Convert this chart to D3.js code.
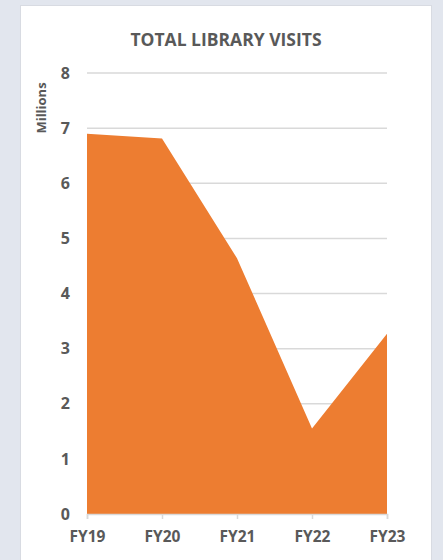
<!DOCTYPE html>
<html>
<head>
    <meta charset='utf-8'>
    <title>Total Library Visits</title>
    <style>
    body {
      margin: 0;
      background: #e2e6ee;
      font-family: 'Open Sans', sans-serif;
    }
    #container {
      width: 443px;
      height: 560px;
    }
    </style>
    <script src='https://d3js.org/d3.v7.min.js'></script>
</head>
<body>
<div id="container"></div>
<script>
// ******* Data *******
const years = ["FY19", "FY20", "FY21", "FY22", "FY23"];
const visits = [6.9, 6.81, 4.64, 1.55, 3.27];   // millions
const yTicks = [0, 1, 2, 3, 4, 5, 6, 7, 8];

// ******* Constants *******
const width = 443,
      height = 560,
      textColor = "#595959",
      gridColor = "#d9d9d9",
      orange = "#ed7d31";

const margin = {left: 87, right: 56, top: 73, bottom: 46};

// ******* Scales *******
var x = d3.scalePoint()
    .domain(years)
    .range([margin.left, width - margin.right]);
var y = d3.scaleLinear()
    .domain([0, 8])
    .range([height - margin.bottom, margin.top]);

// ******* SVG *******
var svg = d3.select("#container").append("svg")
    .attr("width", width)
    .attr("height", height)
    .style("display", "block");

// card
svg.append("rect")
    .attr("x", 20.5).attr("y", 5.5)
    .attr("width", 411).attr("height", 570)
    .attr("fill", "#fff")
    .attr("stroke", "#d8dbe2");

// title, centred on the card
svg.append("text")
    .attr("x", 226)
    .attr("y", 46)
    .attr("text-anchor", "middle")
    .attr("font-size", 17.5)
    .attr("font-weight", "bold")
    .attr("fill", textColor)
    .text("TOTAL LIBRARY VISITS");

// gridlines
svg.append("g")
    .selectAll("line")
    .data(yTicks.filter(d => d > 0))
    .enter().append("line")
    .attr("x1", x.range()[0])
    .attr("x2", x.range()[1])
    .attr("y1", d => y(d))
    .attr("y2", d => y(d))
    .attr("stroke", gridColor)
    .attr("stroke-width", 1.5);

// area
var area = d3.area()
    .x((d, i) => x(years[i]))
    .y0(y(0))
    .y1(d => y(d));

svg.append("path")
    .datum(visits)
    .attr("d", area)
    .attr("fill", orange);

// x axis
var xAxis = svg.append("g")
    .attr("transform", "translate(0," + y(0) + ")")
    .call(d3.axisBottom(x).tickSize(5).tickPadding(12));
xAxis.select(".domain").attr("stroke", gridColor).attr("stroke-width", 1.5);
xAxis.selectAll(".tick line").attr("stroke", gridColor).attr("stroke-width", 1.5);
xAxis.selectAll(".tick text")
    .attr("font-family", "'Open Sans', sans-serif")
    .attr("font-size", 15.5)
    .attr("font-weight", "bold")
    .attr("fill", textColor);

// y axis labels
var yAxis = svg.append("g")
    .attr("transform", "translate(" + margin.left + ",0)")
    .call(d3.axisLeft(y).tickValues(yTicks).tickSize(0).tickPadding(17));
yAxis.select(".domain").remove();
yAxis.selectAll(".tick text")
    .attr("font-family", "'Open Sans', sans-serif")
    .attr("font-size", 16)
    .attr("font-weight", "bold")
    .attr("fill", textColor);

// axis title
svg.append("text")
    .attr("transform", "translate(46,108) rotate(-90)")
    .attr("text-anchor", "middle")
    .attr("font-size", 13)
    .attr("font-weight", "bold")
    .attr("fill", textColor)
    .text("Millions");
</script>
</body>
</html>
